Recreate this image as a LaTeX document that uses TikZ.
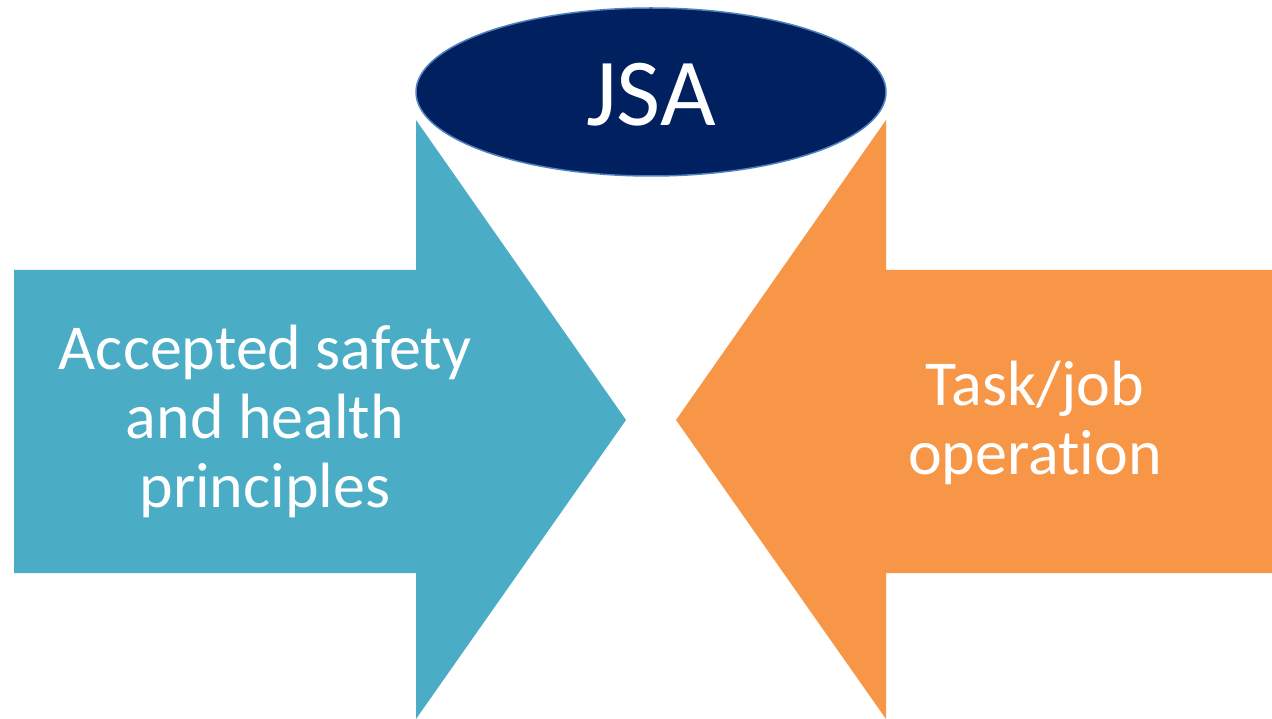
\documentclass[tikz,border=0pt]{standalone}
\usepackage{fontspec}
\setmainfont{Carlito}[Ligatures=NoCommon]
\definecolor{jsateal}{HTML}{4BACC6}
\definecolor{jsaorange}{HTML}{F79646}
\definecolor{jsanavy}{HTML}{002060}
\definecolor{jsaedge}{HTML}{4F81BD}

\begin{document}
\begin{tikzpicture}[x=1pt,y=-1pt]
    \useasboundingbox (0,0) rectangle (1272,719);

    % inputs
    \fill[jsateal](14,270)--(416,270)--(416,120)--(626,420)--(416,719)--(416,573)--(14,573)--cycle;
    \fill[jsaorange](1272,270)--(886,270)--(886,120)--(676,420)--(886,719)--(886,573)--(1272,573)--cycle;

    % result
    \filldraw[fill=jsanavy,draw=jsaedge,line width=1.5pt](651,92)ellipse(235 and 84);
    \node[text=white,font=\fontsize{96}{115}\selectfont](jsa) at (651,95){JSA};

    \node[text=white,align=center,font=\fontsize{64}{69}\selectfont](principles) at (265,421){Accepted safety\\and health\\principles};
    \node[text=white,align=center,font=\fontsize{64}{69}\selectfont](task) at (1035,423){Task/job\\operation};
\end{tikzpicture}
\end{document}
